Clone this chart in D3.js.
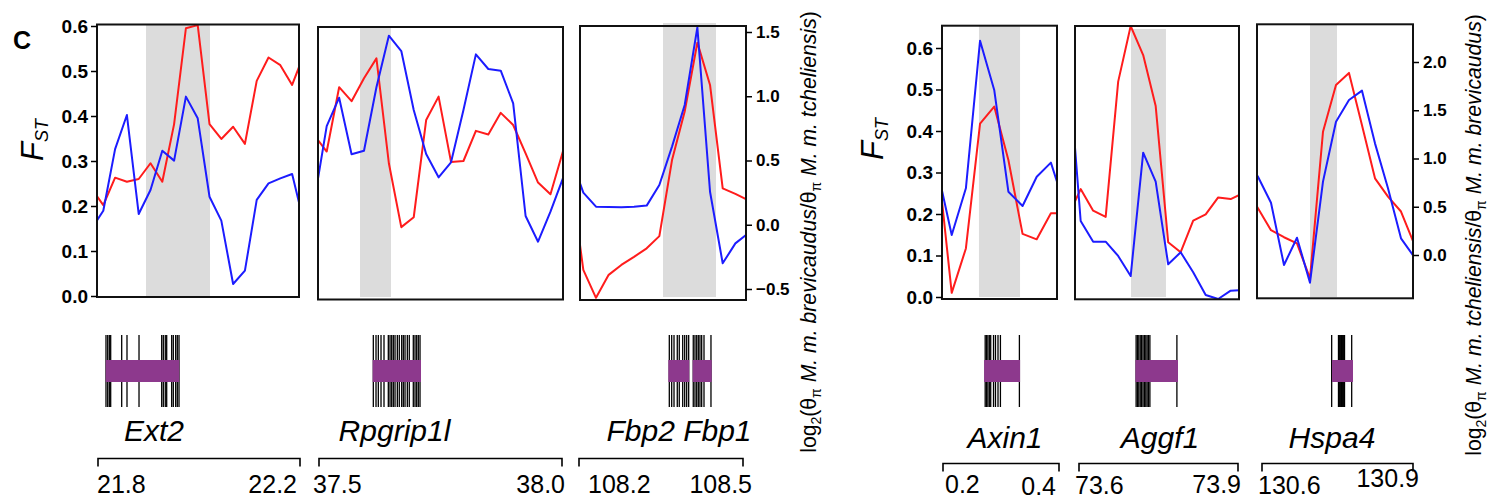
<!DOCTYPE html>
<html>
<head>
<meta charset="utf-8">
<script src="https://cdn.jsdelivr.net/npm/d3@7"></script>
<style>
  body { margin: 0; background: #fff; }
  svg { display: block; }
  text { font-family: "Liberation Sans", Arial, sans-serif; fill: #000; }
</style>
</head>
<body>
<svg id="chart" width="1489" height="500"></svg>
<script>
// ---- Regions (Mb) ----
const regionNames = ["Ext2", "Rpgrip1l", "Fbp2 Fbp1", "Axin1", "Aggf1", "Hspa4"];
const regionStart = [21.8, 37.5, 108.2, 0.2, 73.6, 130.6];
const regionEnd   = [22.2, 38.0, 108.5, 0.4, 73.9, 130.9];

// sliding windows: position of the first window and step (Mb)
const windowStart = [21.7891, 37.4924, 108.1831, 0.19226, 73.5875, 130.5769];
const windowStep  = [0.02337, 0.02537, 0.0229, 0.02464, 0.02287, 0.025];

// putative sweep regions (Mb)
const sweepStart = [21.897, 37.5857, 108.35, 0.2643, 73.7024, 130.7019];
const sweepEnd   = [22.0238, 37.649, 108.4458, 0.3357, 73.7664, 130.7538];

// ---- FST per window (red) ----
const fstExt2     = [0.239, 0.202, 0.263, 0.254, 0.260, 0.295, 0.254, 0.382, 0.595, 0.602, 0.382, 0.349, 0.376, 0.338, 0.478, 0.530, 0.513, 0.469, 0.537];
const fstRpgrip1l = [0.357, 0.321, 0.464, 0.433, 0.484, 0.528, 0.295, 0.153, 0.175, 0.391, 0.443, 0.298, 0.300, 0.367, 0.359, 0.407, 0.380, 0.317, 0.252, 0.226, 0.321];
const fstFbp      = [0.269, 0.058, -0.004, 0.047, 0.069, 0.087, 0.106, 0.133, 0.302, 0.410, 0.563, 0.469, 0.239, 0.227, 0.213];
const fstAxin1    = [0.331, 0.010, 0.117, 0.418, 0.459, 0.330, 0.152, 0.139, 0.202, 0.202];
const fstAggf1    = [0.195, 0.260, 0.208, 0.193, 0.519, 0.653, 0.583, 0.460, 0.132, 0.108, 0.184, 0.199, 0.240, 0.236, 0.250];
const fstHspa4    = [0.266, 0.214, 0.161, 0.144, 0.129, 0.045, 0.398, 0.511, 0.540, 0.414, 0.286, 0.242, 0.206, 0.129, 0.057];

// ---- log2 ratio of nucleotide diversity per window (blue) ----
const piExt2      = [-0.031, 0.109, 0.589, 0.854, 0.084, 0.270, 0.576, 0.499, 0.997, 0.828, 0.218, 0.032, -0.461, -0.357, 0.193, 0.322, 0.361, 0.395, 0.014];
const piRpgrip1l  = [0.185, 0.768, 0.989, 0.548, 0.576, 1.070, 1.471, 1.352, 0.893, 0.551, 0.369, 0.486, 0.893, 1.326, 1.212, 1.199, 0.945, 0.068, -0.132, 0.102, 0.361];
const piFbp       = [0.530, 0.250, 0.141, 0.138, 0.136, 0.141, 0.149, 0.309, 0.608, 0.932, 1.536, 0.257, -0.300, -0.145, -0.067];
const piAxin1     = [0.876, 0.207, 0.691, 2.221, 1.710, 0.656, 0.508, 0.811, 0.957, 0.497];
const piAggf1     = [2.03, 0.352, 0.138, 0.138, -0.010, -0.218, 1.060, 0.760, -0.096, 0.028, -0.179, -0.415, -0.456, -0.370, -0.363];
const piHspa4     = [1.019, 0.811, 0.542, -0.104, 0.179, -0.287, 0.760, 1.381, 1.606, 1.703, 1.157, 0.691, 0.173, -0.017, -0.190];

// ---- gene models (Mb) ----
const exonsExt2     = [21.8178, 21.8212, 21.8244, 21.8271, 21.8489, 21.8594, 21.8832, 21.9281, 21.9313, 21.9352, 21.938, 21.9479, 21.9511, 21.9558, 21.959, 21.9624];
const exonsRpgrip1l = [37.6129, 37.6184, 37.6231, 37.6286, 37.6347, 37.6435, 37.647, 37.6504, 37.6537, 37.6572, 37.6619, 37.6659, 37.6708, 37.6741, 37.6776, 37.6823, 37.6863, 37.6945, 37.698, 37.7014, 37.7047, 37.7082];
const exonsFbp      = [108.3614, 108.3657, 108.3699, 108.3758, 108.3794, 108.3856, 108.3892, 108.3928, 108.3964, 108.4047, 108.4078, 108.4109, 108.4138, 108.4168, 108.4199, 108.4241, 108.4367];
const exonsAxin1    = [0.2751, 0.2774, 0.2798, 0.2823, 0.2847, 0.2896, 0.293, 0.2974, 0.3016, 0.3346];
const exonsAggf1    = [73.7118, 73.7143, 73.7167, 73.7193, 73.7218, 73.7244, 73.7269, 73.7295, 73.7319, 73.7344, 73.737, 73.7864];
const exonsHspa4    = [130.7436, 130.7567, 130.7582, 130.7596, 130.7611, 130.7625, 130.7640, 130.7654, 130.7668, 130.7683, 130.7821];

const genesExt2     = [[21.8172, 21.963]];
const genesRpgrip1l = [[37.6116, 37.7102]];
const genesFbp      = [[108.3596, 108.3975], [108.4036, 108.438]];
const genesAxin1    = [[0.2732, 0.3358]];
const genesAggf1    = [[73.7105, 73.7884]];
const genesHspa4    = [[130.7442, 130.7846]];

const geneLabelAt = [21.9129, 37.6561, 108.3789, 0.3096, 73.7555, 130.7442];

// ---- ticks ----
const fstTicks     = [0, 0.1, 0.2, 0.3, 0.4, 0.5, 0.6];
const piTicksLeft  = [-0.5, 0, 0.5, 1.0, 1.5];
const piTicksRight = [0, 0.5, 1.0, 1.5, 2.0];

// ---- layout ----
const panelX0 = [97, 318, 580, 942, 1075, 1257];
const panelX1 = [299, 563, 746, 1057, 1239, 1413];
const frameTop    = [24.5, 27, 26, 25.7, 26, 24.3];
const frameBottom = [297, 299.5, 300, 299, 299.3, 298.3];
const bandTop     = [24.5, 27, 23, 25.7, 29, 24.3];
const bandBottom  = 297;
const bracketX0 = [98, 319, 579, 943, 1079, 1262];
const bracketX1 = [300, 562, 743, 1059, 1238, 1413];
const startLabelX = [97, 313, 588, 945, 1075, 1258];
const endLabelX   = [297, 565, 752, 1056, 1241, 1419];
const startLabelY = [493, 493, 493, 493, 494, 494];
const endLabelY   = [493, 493, 493, 495, 493, 487];

const fstSeries  = [fstExt2, fstRpgrip1l, fstFbp, fstAxin1, fstAggf1, fstHspa4];
const piSeries   = [piExt2, piRpgrip1l, piFbp, piAxin1, piAggf1, piHspa4];
const exonSeries = [exonsExt2, exonsRpgrip1l, exonsFbp, exonsAxin1, exonsAggf1, exonsHspa4];
const geneSeries = [genesExt2, genesRpgrip1l, genesFbp, genesAxin1, genesAggf1, genesHspa4];

const groups = [
  { panels: [0, 1, 2], fstRange: [296, 26], piDomain: [-0.5, 1.5], piRange: [289, 32], piTicks: piTicksLeft,
    fstFont: 19, piFont: 17, fstLabel: [43, 140], bracketY: 458.5, geneLabelY: 441,
    ratioLabel: [816, 232], ratio: ["brevicaudus", "tcheliensis"] },
  { panels: [3, 4, 5], fstRange: [297, 48], piDomain: [0, 2], piRange: [255, 62], piTicks: piTicksRight,
    fstFont: 19, piFont: 17, fstLabel: [883, 139], bracketY: 463.5, geneLabelY: 448,
    ratioLabel: [1481, 235], ratio: ["tcheliensis", "brevicaudus"] }
];

const RED = "#ff1c1c", BLUE = "#1c1cff", PURPLE = "#8d398d", BAND = "#dcdcdc";
const geneTop = 335, geneBottom = 407, blockTop = 360, blockBottom = 382;

const svg = d3.select("#chart");
const defs = svg.append("defs");

// panel label
svg.append("text").attr("x", 13).attr("y", 49)
  .attr("font-size", 25).attr("font-weight", "bold").text("C");

groups.forEach((g, gi) => {
  const yF = d3.scaleLinear().domain([0, 0.6]).range(g.fstRange);
  const yP = d3.scaleLinear().domain(g.piDomain).range(g.piRange);

  g.panels.forEach(p => {
    const x = d3.scaleLinear().domain([regionStart[p], regionEnd[p]]).range([panelX0[p], panelX1[p]]);
    const winX = i => x(windowStart[p] + i * windowStep[p]);
    const pg = svg.append("g");

    const clipId = "clip" + p;
    defs.append("clipPath").attr("id", clipId).append("rect")
      .attr("x", panelX0[p]).attr("y", frameTop[p])
      .attr("width", panelX1[p] - panelX0[p]).attr("height", frameBottom[p] - frameTop[p]);

    // sweep region
    pg.append("rect")
      .attr("x", x(sweepStart[p])).attr("y", bandTop[p])
      .attr("width", x(sweepEnd[p]) - x(sweepStart[p])).attr("height", bandBottom - bandTop[p])
      .attr("fill", BAND);

    const lines = pg.append("g").attr("clip-path", `url(#${clipId})`);
    lines.append("path").datum(fstSeries[p])
      .attr("d", d3.line().x((d, i) => winX(i)).y(d => yF(d)))
      .attr("fill", "none").attr("stroke", RED).attr("stroke-width", 2).attr("stroke-linejoin", "round");
    lines.append("path").datum(piSeries[p])
      .attr("d", d3.line().x((d, i) => winX(i)).y(d => yP(d)))
      .attr("fill", "none").attr("stroke", BLUE).attr("stroke-width", 2).attr("stroke-linejoin", "round");

    // frame
    pg.append("rect")
      .attr("x", panelX0[p]).attr("y", frameTop[p])
      .attr("width", panelX1[p] - panelX0[p]).attr("height", frameBottom[p] - frameTop[p])
      .attr("fill", "none").attr("stroke", "#111").attr("stroke-width", 2);

    // gene model: exon ticks and gene body
    pg.selectAll(".exon").data(exonSeries[p]).join("line")
      .attr("x1", d => x(d)).attr("x2", d => x(d))
      .attr("y1", geneTop).attr("y2", geneBottom)
      .attr("stroke", "#000").attr("stroke-width", 1.3);
    pg.selectAll(".gene").data(geneSeries[p]).join("rect")
      .attr("x", d => x(d[0])).attr("width", d => x(d[1]) - x(d[0]))
      .attr("y", blockTop).attr("height", blockBottom - blockTop)
      .attr("fill", PURPLE);
    pg.append("text")
      .attr("x", x(geneLabelAt[p])).attr("y", g.geneLabelY)
      .attr("text-anchor", "middle").attr("font-size", 30).attr("font-style", "italic")
      .text(regionNames[p]);

    // genomic coordinate bracket
    const by = g.bracketY;
    pg.append("path")
      .attr("d", `M${bracketX0[p]},${by + 8}V${by}H${bracketX1[p]}V${by + 8}`)
      .attr("fill", "none").attr("stroke", "#000").attr("stroke-width", 1.6);
    const fmt = d3.format(".1f");
    pg.append("text").attr("x", startLabelX[p]).attr("y", startLabelY[p])
      .attr("font-size", 25).text(fmt(regionStart[p]));
    pg.append("text").attr("x", endLabelX[p]).attr("y", endLabelY[p])
      .attr("text-anchor", "end").attr("font-size", 25).text(fmt(regionEnd[p]));
  });

  // left axis: FST
  const first = g.panels[0], last = g.panels[g.panels.length - 1];
  const leftAxis = svg.append("g").attr("transform", `translate(${panelX0[first]},0)`)
    .call(d3.axisLeft(yF).tickValues(fstTicks).tickFormat(d3.format(".1f")).tickSize(6).tickPadding(3));
  leftAxis.select(".domain").remove();
  leftAxis.selectAll("line").attr("stroke", "#000").attr("stroke-width", 1.5);
  leftAxis.selectAll("text").attr("font-size", g.fstFont).attr("font-weight", "bold")
    .attr("font-family", "Liberation Sans, Arial, sans-serif").attr("fill", "#000");

  // right axis: log2 diversity ratio
  const rightAxis = svg.append("g").attr("transform", `translate(${panelX1[last]},0)`)
    .call(d3.axisRight(yP).tickValues(g.piTicks).tickFormat(d3.format(".1f")).tickSize(6).tickPadding(4));
  rightAxis.select(".domain").remove();
  rightAxis.selectAll("line").attr("stroke", "#000").attr("stroke-width", 1.5);
  rightAxis.selectAll("text").attr("font-size", g.piFont).attr("font-weight", "bold")
    .attr("font-family", "Liberation Sans, Arial, sans-serif").attr("fill", "#000");

  // FST title
  const ft = svg.append("text")
    .attr("transform", `translate(${g.fstLabel[0]},${g.fstLabel[1]}) rotate(-90)`)
    .attr("text-anchor", "middle").attr("font-style", "italic");
  ft.append("tspan").attr("font-size", 31).text("F");
  ft.append("tspan").attr("font-size", 18).attr("dy", 5).text("ST");

  // log2 ratio title
  const rt = svg.append("text")
    .attr("transform", `translate(${g.ratioLabel[0]},${g.ratioLabel[1]}) rotate(-90)`)
    .attr("text-anchor", "middle").attr("font-size", 21.2);
  rt.append("tspan").text("log");
  rt.append("tspan").attr("font-size", 14).attr("dy", 5).text("2");
  rt.append("tspan").attr("dy", -5).text("(θ");
  rt.append("tspan").attr("font-size", 14).attr("dy", 5).text("π");
  rt.append("tspan").attr("dy", -5).attr("font-style", "italic").text(" M. m. " + g.ratio[0]);
  rt.append("tspan").text("/θ");
  rt.append("tspan").attr("font-size", 14).attr("dy", 5).text("π");
  rt.append("tspan").attr("dy", -5).attr("font-style", "italic").text(" M. m. " + g.ratio[1]);
  rt.append("tspan").text(")");
});
</script>
</body>
</html>
